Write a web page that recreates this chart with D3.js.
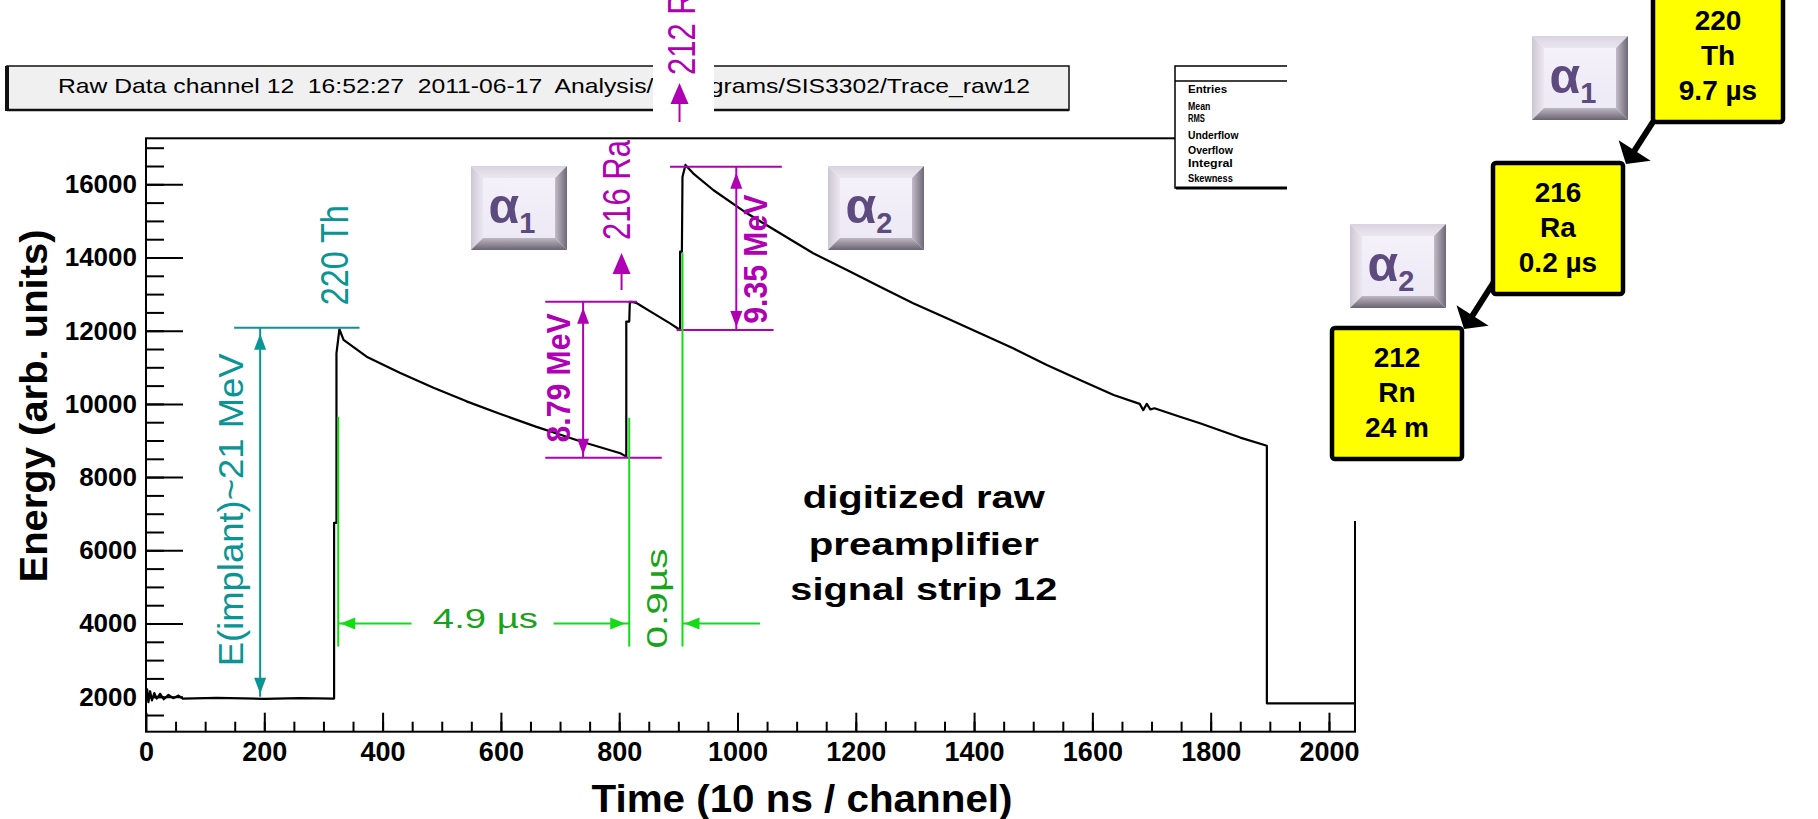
<!DOCTYPE html>
<html>
<head>
<meta charset="utf-8">
<script src="https://cdn.jsdelivr.net/npm/d3@7"></script>
<style>
body { margin: 0; background: #fff; }
svg { display: block; font-family: "Liberation Sans", Arial, Helvetica, sans-serif; }
</style>
</head>
<body>
<div id="chart"></div>
<script>
var width = 1818;
var height = 819;

// preamplifier trace: channel -> energy (arb. units)
var traceChannel = [0, 2, 4, 7, 10, 14, 18, 24, 30, 38, 46, 55, 62, 120, 200, 260, 318,
    318, 322, 322, 327, 334, 373, 429, 486, 542, 598, 659, 734, 802, 812,
    812, 817, 818, 824, 830, 858, 886, 903,
    903, 906, 907, 912, 925, 959, 1016, 1072, 1128, 1185, 1241, 1297, 1354, 1410, 1466, 1523, 1579, 1636,
    1680, 1686, 1692, 1698, 1705, 1748, 1782, 1850, 1895, 1895, 2044];
var traceEnergy = [2050, 2200, 1850, 2150, 1900, 2100, 1950, 2080, 1930, 2050, 1960, 2030, 1950, 1970, 1940, 1960, 1950,
    6750, 6750, 11380, 12040, 11750, 11290, 10850, 10440, 10070, 9730, 9380, 8980, 8650, 8560,
    12250, 12250, 12790, 12780, 12750, 12475, 12200, 12020,
    14160, 14160, 16200, 16530, 16300, 15844, 15208, 14661, 14115, 13659, 13202, 12749, 12339, 11929, 11519, 11063, 10653, 10243,
    10000, 9830, 10000, 9850, 9880, 9651, 9470, 9080, 8858, 1820, 1820];

var xTicks = [0, 200, 400, 600, 800, 1000, 1200, 1400, 1600, 1800, 2000];
var xTickLabels = ["0", "200", "400", "600", "800", "1000", "1200", "1400", "1600", "1800", "2000"];
var yTicks = [2000, 4000, 6000, 8000, 10000, 12000, 14000, 16000];
var yTickLabels = ["2000", "4000", "6000", "8000", "10000", "12000", "14000", "16000"];

var titleText = "Raw Data channel 12  16:52:27  2011-06-17  Analysis/Histograms/SIS3302/Trace_raw12";
var statNames = ["Entries", "Mean", "RMS", "Underflow", "Overflow", "Integral", "Skewness"];

// horizontal guide lines at the energy levels
var guideLevel = [12082, 12792, 8530, 16483, 12019];
var guideFrom = [149, 675, 675, 886, 897];
var guideTo = [361, 830, 872, 1075, 1061];
var guideKind = ["implant", "alpha", "alpha", "alpha", "alpha"];

// vertical energy arrows and their labels
var energyArrowCh = [193, 739, 998];
var energyLow = [2000, 8530, 12019];
var energyHigh = [12082, 12792, 16483];
var energyLabels = ["E(implant)~21 MeV", "8.79 MeV", "9.35 MeV"];
var energyLabelCh = [164, 717, 1050];
var energyLabelMid = [7105, 10708, 13954];

// isotope labels (rotated) and their little up arrows
var isotopeLabels = ["220 Th", "216 Ra", "212 Rn"];
var isotopeCh = [341, 818, 928];
var isotopeStart = [12697, 14478, 18985];
var isotopeArrowCh = [null, 804, 902];
var isotopeArrowFrom = [null, 13112, 17702];
var isotopeArrowTo = [null, 14123, 18767];

// timing markers
var markerCh = [325, 817, 907];
var markerTop = [9650, 9620, 14120];
var markerBottom = 3370;
var timeLevel = 4000;
var timeLabels = ["4.9 \u00b5s", "0.9\u00b5s"];

var noteLines = ["digitized raw", "preamplifier", "signal strip 12"];
var noteLevels = [7150, 5870, 4640];
var noteCh = 1315;

// decay chain
var chainMass = ["220", "216", "212"];
var chainElement = ["Th", "Ra", "Rn"];
var chainHalfLife = ["9.7 \u00b5s", "0.2 \u00b5s", "24 m"];

var teal = "#0a9494";
var magenta = "#b000b4";
var green = "#14dc14";
var greenText = "#1aa31a";

var svg = d3.select("#chart").append("svg").attr("width", width).attr("height", height);

var defs = svg.append("defs");
function grad(id, x2, y2, c1, c2) {
    var g = defs.append("linearGradient").attr("id", id)
        .attr("x1", 0).attr("y1", 0).attr("x2", x2).attr("y2", y2);
    g.append("stop").attr("offset", "0%").attr("stop-color", c1);
    g.append("stop").attr("offset", "100%").attr("stop-color", c2);
}
grad("bevTop", 0, 1, "#d9d3df", "#ebe7f0");
grad("bevLeft", 1, 0, "#cdc7d3", "#ebe7f0");
grad("bevRight", 1, 0, "#c2bbc8", "#6e6775");
grad("bevBottom", 0, 1, "#beb7c3", "#6a6370");
grad("bevFace", 0, 1, "#f4f1fa", "#ede9f5");

var x = d3.scaleLinear().domain([0, 2044]).range([146, 1355]);
var y = d3.scaleLinear().domain([1044, 17257]).range([731.7, 138.3]);

function head(g, x1, y1, x2, y2, len, half, color) {
    var dx = x2 - x1, dy = y2 - y1, l = Math.sqrt(dx * dx + dy * dy);
    var ux = dx / l, uy = dy / l;
    var bx = x2 - ux * len, by = y2 - uy * len;
    g.append("polygon")
        .attr("points", [[x2, y2], [bx - uy * half, by + ux * half], [bx + uy * half, by - ux * half]].join(" "))
        .attr("fill", color);
}

// ---- title box
var tb = svg.append("g");
tb.append("rect").attr("x", 7).attr("y", 66).attr("width", 1062).attr("height", 44)
    .attr("fill", "#f0f0f0").attr("stroke", "#111").attr("stroke-width", 1.5);
tb.append("line").attr("x1", 7).attr("x2", 7).attr("y1", 66).attr("y2", 111).attr("stroke", "#111").attr("stroke-width", 4);
tb.append("line").attr("x1", 7).attr("x2", 1069).attr("y1", 110).attr("y2", 110).attr("stroke", "#111").attr("stroke-width", 2.5);
tb.append("text").attr("x", 58).attr("y", 93).attr("font-size", 21).style("white-space", "pre")
    .attr("textLength", 972).attr("lengthAdjust", "spacingAndGlyphs").text(titleText);

// ---- axes
var xAxis = svg.append("g").attr("transform", "translate(0," + y.range()[0] + ")")
    .call(d3.axisBottom(x).tickValues(xTicks).tickFormat(function(d, i) { return xTickLabels[i]; })
        .tickSize(-19).tickPadding(10));
var xMinor = svg.append("g").attr("transform", "translate(0," + y.range()[0] + ")")
    .call(d3.axisBottom(x).tickValues(d3.range(50, 2044, 50)).tickFormat("").tickSize(-10));
var yAxis = svg.append("g").attr("transform", "translate(" + x.range()[0] + ",0)")
    .call(d3.axisLeft(y).tickValues(yTicks).tickFormat(function(d, i) { return yTickLabels[i]; })
        .tickSize(-37).tickPadding(9));
var yMinor = svg.append("g").attr("transform", "translate(" + x.range()[0] + ",0)")
    .call(d3.axisLeft(y).tickValues(d3.range(1500, 17001, 500)).tickFormat("").tickSize(-18));

[xAxis, xMinor, yAxis, yMinor].forEach(function(a) {
    a.select(".domain").remove();
    a.selectAll("line").attr("stroke", "#000").attr("stroke-width", 2);
    a.attr("font-family", null);
});
xAxis.selectAll("text").attr("font-size", 27).attr("font-weight", "bold").attr("fill", "#000");
yAxis.selectAll("text").attr("font-size", 26).attr("font-weight", "bold").attr("fill", "#000");

svg.append("rect").attr("x", x.range()[0]).attr("y", y.range()[1])
    .attr("width", x.range()[1] - x.range()[0]).attr("height", y.range()[0] - y.range()[1])
    .attr("fill", "none").attr("stroke", "#000").attr("stroke-width", 2);

svg.append("text").attr("x", 802).attr("y", 812).attr("text-anchor", "middle")
    .attr("font-size", 38).attr("font-weight", "bold")
    .attr("textLength", 421).attr("lengthAdjust", "spacingAndGlyphs")
    .text("Time (10 ns / channel)");
svg.append("text").attr("transform", "translate(47,406) rotate(-90)").attr("text-anchor", "middle")
    .attr("font-size", 39).attr("font-weight", "bold")
    .attr("textLength", 353).attr("lengthAdjust", "spacingAndGlyphs")
    .text("Energy (arb. units)");

// ---- trace
var trace = traceChannel.map(function(c, i) { return [c, traceEnergy[i]]; });
svg.append("path").datum(trace)
    .attr("fill", "none").attr("stroke", "#000").attr("stroke-width", 2.2).attr("stroke-linejoin", "round")
    .attr("d", d3.line().x(function(d) { return x(d[0]); }).y(function(d) { return y(d[1]); }));

// ---- annotations
var ann = svg.append("g");
for (var i = 0; i < guideLevel.length; i++) {
    ann.append("line").attr("x1", x(guideFrom[i])).attr("x2", x(guideTo[i]))
        .attr("y1", y(guideLevel[i])).attr("y2", y(guideLevel[i]))
        .attr("stroke", guideKind[i] == "implant" ? teal : magenta).attr("stroke-width", 2);
}
for (var i = 0; i < energyArrowCh.length; i++) {
    var col = i == 0 ? teal : magenta;
    var ax = x(energyArrowCh[i]), yTop = y(energyHigh[i]), yBot = y(energyLow[i]);
    ann.append("line").attr("x1", ax).attr("x2", ax).attr("y1", yTop).attr("y2", yBot)
        .attr("stroke", col).attr("stroke-width", 2);
    head(ann, ax, yBot, ax, yTop + 6, 16, 6, col);
    head(ann, ax, yTop, ax, yBot - 3, 16, 6, col);
    ann.append("text")
        .attr("transform", "translate(" + x(energyLabelCh[i]) + "," + y(energyLabelMid[i]) + ") rotate(-90)")
        .attr("text-anchor", "middle").attr("fill", col)
        .attr("font-size", i == 0 ? 35 : 34).attr("font-weight", i == 0 ? "normal" : "bold")
        .attr("textLength", i == 0 ? 313 : 129).attr("lengthAdjust", "spacingAndGlyphs")
        .text(energyLabels[i]);
}

// green timing markers
for (var i = 0; i < markerCh.length; i++) {
    ann.append("line").attr("x1", x(markerCh[i])).attr("x2", x(markerCh[i]))
        .attr("y1", y(markerBottom)).attr("y2", y(markerTop[i]))
        .attr("stroke", green).attr("stroke-width", 2);
}
var ty = y(timeLevel);
var seg = [[markerCh[0], 449, "left"], [689, markerCh[1], "right"], [markerCh[2], 1038, "left"]];
seg.forEach(function(s) {
    ann.append("line").attr("x1", x(s[0])).attr("x2", x(s[1])).attr("y1", ty).attr("y2", ty)
        .attr("stroke", green).attr("stroke-width", 2);
    if (s[2] == "left") head(ann, x(s[1]), ty, x(s[0]) + 2, ty, 15, 6, green);
    else head(ann, x(s[0]), ty, x(s[1]) - 4, ty, 15, 6, green);
});
ann.append("text").attr("x", x(485)).attr("y", y(3878)).attr("fill", greenText)
    .attr("font-size", 28).attr("textLength", 105).attr("lengthAdjust", "spacingAndGlyphs")
    .text(timeLabels[0]);
ann.append("text").attr("transform", "translate(" + x(881) + "," + y(3318) + ") rotate(-90)")
    .attr("fill", greenText).attr("font-size", 30)
    .attr("textLength", 100).attr("lengthAdjust", "spacingAndGlyphs")
    .text(timeLabels[1]);

// note
for (var i = 0; i < noteLines.length; i++) {
    ann.append("text").attr("x", x(noteCh)).attr("y", y(noteLevels[i])).attr("text-anchor", "middle")
        .attr("font-size", 31).attr("font-weight", "bold")
        .attr("textLength", [242, 230, 267][i]).attr("lengthAdjust", "spacingAndGlyphs")
        .text(noteLines[i]);
}

// ---- stats box
var sb = svg.append("g");
sb.append("rect").attr("x", 1175).attr("y", 66).attr("width", 140).attr("height", 122)
    .attr("fill", "#fff").attr("stroke", "#000").attr("stroke-width", 1.5);
sb.append("line").attr("x1", 1175).attr("x2", 1315).attr("y1", 81).attr("y2", 81).attr("stroke", "#000").attr("stroke-width", 1.5);
sb.append("line").attr("x1", 1176).attr("x2", 1315).attr("y1", 188).attr("y2", 188).attr("stroke", "#000").attr("stroke-width", 3);
var statY = [93, 110, 121.5, 139, 154, 167, 182];
statNames.forEach(function(n, i) {
    sb.append("text").attr("x", 1188).attr("y", statY[i]).attr("font-size", 11).attr("font-weight", "bold")
        .attr("textLength", n.length * 5.6).attr("lengthAdjust", "spacingAndGlyphs").text(n);
});

// the slide covers the right part of the ROOT canvas
svg.append("rect").attr("x", 1287).attr("y", 0).attr("width", width - 1287).attr("height", 521).attr("fill", "#fff");

// ---- isotope labels
var iso = svg.append("g");
iso.append("rect").attr("x", 653).attr("y", 0).attr("width", 61).attr("height", 112).attr("fill", "#fff");
for (var i = 0; i < isotopeLabels.length; i++) {
    var col = i == 0 ? teal : magenta;
    iso.append("text")
        .attr("transform", "translate(" + x(isotopeCh[i]) + "," + y(isotopeStart[i]) + ") rotate(-90)")
        .attr("fill", col).attr("font-size", 38)
        .attr("textLength", 100).attr("lengthAdjust", "spacingAndGlyphs")
        .text(isotopeLabels[i]);
    if (isotopeArrowCh[i] != null) {
        var ax = x(isotopeArrowCh[i]);
        iso.append("line").attr("x1", ax).attr("x2", ax)
            .attr("y1", y(isotopeArrowFrom[i])).attr("y2", y(isotopeArrowTo[i]) + 10)
            .attr("stroke", col).attr("stroke-width", 2);
        head(iso, ax, y(isotopeArrowFrom[i]), ax, y(isotopeArrowTo[i]), 21, 9, col);
    }
}

// ---- alpha buttons
function alphaBox(bx, by, sub) {
    var w = 96, h = 84, b = 12;
    var g = svg.append("g");
    g.append("rect").attr("x", bx).attr("y", by).attr("width", w).attr("height", h).attr("fill", "url(#bevFace)");
    g.append("polygon").attr("points", [[bx, by], [bx + w, by], [bx + w - b, by + b], [bx + b, by + b]].join(" ")).attr("fill", "url(#bevTop)");
    g.append("polygon").attr("points", [[bx, by], [bx + b, by + b], [bx + b, by + h - b], [bx, by + h]].join(" ")).attr("fill", "url(#bevLeft)");
    g.append("polygon").attr("points", [[bx + w, by], [bx + w, by + h], [bx + w - b, by + h - b], [bx + w - b, by + b]].join(" ")).attr("fill", "url(#bevRight)");
    g.append("polygon").attr("points", [[bx, by + h], [bx + b, by + h - b], [bx + w - b, by + h - b], [bx + w, by + h]].join(" ")).attr("fill", "url(#bevBottom)");
    g.append("rect").attr("x", bx + b).attr("y", by + b).attr("width", w - 2 * b).attr("height", h - 2 * b).attr("fill", "url(#bevFace)");
    var t = g.append("text").attr("x", bx + w / 2 - 7).attr("y", by + 57).attr("text-anchor", "middle")
        .attr("font-weight", "bold").attr("fill", "#5d4a7e").attr("font-size", 50);
    t.append("tspan").text("\u03b1");
    t.append("tspan").attr("font-size", 29).attr("dy", 10).text(sub);
}
alphaBox(471, 166, "1");
alphaBox(828, 166, "2");
alphaBox(1532, 36, "1");
alphaBox(1350, 224, "2");

// ---- decay chain
var boxX = [1653, 1493, 1332];
var boxY = [-9, 163, 328];
var chain = svg.append("g");
[[1660, 111, 1626, 164], [1497, 277, 1464, 329]].forEach(function(a) {
    var dx = a[2] - a[0], dy = a[3] - a[1], l = Math.sqrt(dx * dx + dy * dy);
    chain.append("line").attr("x1", a[0]).attr("y1", a[1])
        .attr("x2", a[2] - dx / l * 14).attr("y2", a[3] - dy / l * 14)
        .attr("stroke", "#000").attr("stroke-width", 6);
    head(chain, a[0], a[1], a[2], a[3], 16, 19, "#000");
});
for (var i = 0; i < chainMass.length; i++) {
    chain.append("rect").attr("x", boxX[i]).attr("y", boxY[i]).attr("width", 130).attr("height", 131)
        .attr("rx", 3).attr("fill", "#ffff00").attr("stroke", "#000").attr("stroke-width", 4.5);
    [chainMass[i], chainElement[i], chainHalfLife[i]].forEach(function(s, j) {
        chain.append("text").attr("x", boxX[i] + 65).attr("y", boxY[i] + 39 + j * 35)
            .attr("text-anchor", "middle").attr("font-size", 28).attr("font-weight", "bold").text(s);
    });
}
</script>
</body>
</html>
